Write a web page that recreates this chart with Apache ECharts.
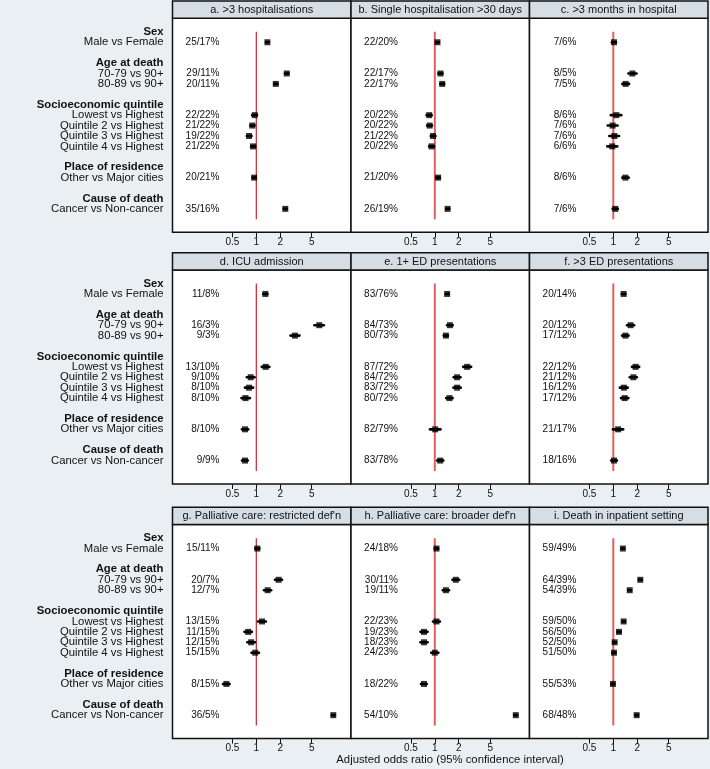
<!DOCTYPE html>
<html><head><meta charset="utf-8">
<script src="https://cdn.jsdelivr.net/npm/echarts@6/dist/echarts.min.js"></script>
<style>html,body{margin:0;padding:0;background:#e9eff2;}#c{width:710px;height:769px;}</style>
</head><body><div id="c"></div>
<script>
// ---- data ----
const rowLabels = ['Sex','Male vs Female','','Age at death','70-79 vs 90+','80-89 vs 90+','',
  'Socioeconomic quintile','Lowest vs Highest','Quintile 2 vs Highest','Quintile 3 vs Highest','Quintile 4 vs Highest','',
  'Place of residence','Other vs Major cities','','Cause of death','Cancer vs Non-cancer'];
const headerRows = [0, 3, 7, 13, 16];
const itemRows = [1, 4, 5, 8, 9, 10, 11, 14, 17];
const tickValues = [0.5, 1, 2, 5];
const refValue = 1;
const axisTitle = 'Adjusted odds ratio (95% confidence interval)';

const panelTitles = ['a. >3 hospitalisations','b. Single hospitalisation >30 days','c. >3 months in hospital',
  'd. ICU admission','e. 1+ ED presentations','f. >3 ED presentations',
  "g. Palliative care: restricted def'n","h. Palliative care: broader def'n",'i. Death in inpatient setting'];

const aOR = [1.38, 2.42, 1.76, 0.955, 0.89, 0.81, 0.91, 0.94, 2.32];
const aLo = [1.33, 2.30, 1.68, 0.89, 0.84, 0.76, 0.86, 0.90, 2.22];
const aHi = [1.43, 2.55, 1.85, 1.02, 0.95, 0.87, 0.97, 0.98, 2.42];
const aPct = ['25/17%','29/11%','20/11%','22/22%','21/22%','19/22%','21/22%','20/21%','35/16%'];

const bOR = [1.08, 1.18, 1.24, 0.85, 0.86, 0.95, 0.91, 1.10, 1.45];
const bLo = [1.04, 1.11, 1.17, 0.79, 0.80, 0.89, 0.85, 1.04, 1.39];
const bHi = [1.12, 1.25, 1.31, 0.91, 0.92, 1.02, 0.98, 1.16, 1.52];
const bPct = ['22/20%','22/17%','22/17%','20/22%','20/22%','21/22%','20/22%','21/20%','26/19%'];

const cOR = [1.02, 1.74, 1.43, 1.09, 0.98, 1.03, 0.97, 1.42, 1.06];
const cLo = [0.96, 1.55, 1.30, 0.93, 0.85, 0.89, 0.84, 1.30, 0.98];
const cHi = [1.08, 1.96, 1.58, 1.26, 1.13, 1.18, 1.12, 1.56, 1.14];
const cPct = ['7/6%','8/5%','7/5%','8/6%','7/6%','7/6%','6/6%','8/6%','7/6%'];

const dOR = [1.30, 6.23, 3.07, 1.31, 0.85, 0.81, 0.73, 0.72, 0.72];
const dLo = [1.22, 5.40, 2.70, 1.17, 0.76, 0.72, 0.65, 0.66, 0.66];
const dHi = [1.38, 7.10, 3.50, 1.46, 0.95, 0.91, 0.83, 0.79, 0.78];
const dPct = ['11/8%','16/3%','9/3%','13/10%','9/10%','8/10%','8/10%','8/10%','9/9%'];

const eOR = [1.43, 1.55, 1.38, 2.56, 1.91, 1.91, 1.53, 1.01, 1.17];
const eLo = [1.37, 1.43, 1.30, 2.28, 1.73, 1.72, 1.39, 0.87, 1.07];
const eHi = [1.49, 1.68, 1.46, 2.87, 2.11, 2.12, 1.68, 1.18, 1.28];
const ePct = ['83/76%','84/73%','80/73%','87/72%','84/72%','83/72%','80/72%','82/79%','83/78%'];

const fOR = [1.35, 1.65, 1.42, 1.91, 1.79, 1.36, 1.39, 1.15, 1.02];
const fLo = [1.28, 1.49, 1.29, 1.72, 1.61, 1.21, 1.25, 0.99, 0.94];
const fHi = [1.42, 1.83, 1.56, 2.12, 1.98, 1.52, 1.55, 1.33, 1.11];
const fPct = ['20/14%','20/12%','17/12%','22/12%','21/12%','16/12%','17/12%','21/17%','18/16%'];

const gOR = [1.03, 1.91, 1.39, 1.18, 0.79, 0.86, 0.97, 0.42, 9.35];
const gLo = [0.97, 1.72, 1.25, 1.05, 0.71, 0.77, 0.87, 0.38, 9.00];
const gHi = [1.09, 2.11, 1.54, 1.32, 0.88, 0.96, 1.08, 0.46, 9.70];
const gPct = ['15/11%','20/7%','12/7%','13/15%','11/15%','12/15%','15/15%','8/15%','36/5%'];

const hOR = [1.05, 1.84, 1.38, 1.05, 0.73, 0.73, 1.00, 0.73, 10.5];
const hLo = [1.00, 1.67, 1.26, 0.95, 0.66, 0.66, 0.90, 0.67, 10.1];
const hHi = [1.10, 2.03, 1.51, 1.16, 0.81, 0.81, 1.11, 0.79, 10.9];
const hPct = ['24/18%','30/11%','19/11%','22/23%','19/23%','18/23%','24/23%','18/22%','54/10%'];

const iOR = [1.32, 2.19, 1.61, 1.35, 1.18, 1.04, 1.02, 0.99, 1.97];
const iLo = [1.28, 2.10, 1.55, 1.30, 1.13, 1.00, 0.98, 0.95, 1.90];
const iHi = [1.36, 2.28, 1.67, 1.40, 1.23, 1.08, 1.06, 1.03, 2.04];
const iPct = ['59/49%','64/39%','54/39%','59/50%','56/50%','52/50%','51/50%','55/53%','68/48%'];

// ---- layout ----
const FONT = '"Liberation Sans", Arial, Helvetica, sans-serif';
const colLeft = [172.5, 351, 529.5];
const colWidth = 178.5;
const stripTop = [1, 252.7, 507.3];
const stripH = 17.3;
const plotH = 214;
const xMin = -1.0568, xMax = 1.194;
const yMin = -1.3, yMax = 19.25;

const panels = [
  [aOR,aLo,aHi,aPct],[bOR,bLo,bHi,bPct],[cOR,cLo,cHi,cPct],
  [dOR,dLo,dHi,dPct],[eOR,eLo,eHi,ePct],[fOR,fLo,fHi,fPct],
  [gOR,gLo,gHi,gPct],[hOR,hLo,hHi,hPct],[iOR,iLo,iHi,iPct]
];
const lg = v => Math.log10(v);

const grids = [], xAxes = [], yAxes = [], series = [], graphics = [];
panels.forEach((p, k) => {
  const r = Math.floor(k / 3), c = k % 3;
  const [or, lo, hi, pct] = p;
  grids.push({left: colLeft[c], top: stripTop[r] + stripH, width: colWidth, height: plotH,
    show: true, backgroundColor: '#ffffff', borderColor: '#111', borderWidth: 1.5});
  xAxes.push({type: 'value', gridIndex: k, min: xMin, max: xMax, position: 'bottom',
    axisLine: {show: false, onZero: false}, splitLine: {show: false},
    axisTick: {show: true, inside: false, length: 5, customValues: tickValues.map(lg), lineStyle: {color: '#111', width: 1}},
    axisLabel: {customValues: tickValues.map(lg), margin: 5, fontSize: 10, color: '#111', fontFamily: FONT,
      formatter: v => String(Math.round(Math.pow(10, v) * 10) / 10)}});
  const statAxis = yAxes.length;
  yAxes.push({type: 'value', gridIndex: k, min: yMin, max: yMax, inverse: true, position: 'left',
    axisLine: {show: false, onZero: false}, axisTick: {show: false}, splitLine: {show: false},
    axisLabel: {inside: true, margin: 47, align: 'right', customValues: itemRows, fontSize: 10, color: '#111', fontFamily: FONT,
      formatter: v => pct[itemRows.indexOf(Math.round(v))] || ''}});
  if (c === 0) {
    yAxes.push({type: 'value', gridIndex: k, min: yMin, max: yMax, inverse: true, position: 'left',
      axisLine: {show: false, onZero: false}, axisTick: {show: false}, splitLine: {show: false},
      axisLabel: {margin: 9, customValues: headerRows.concat(itemRows), fontSize: 11.3, color: '#111', fontFamily: FONT,
        formatter: v => { const i = Math.round(v); return headerRows.includes(i) ? '{h|' + rowLabels[i] + '}' : '{n|' + rowLabels[i] + '}'; },
        rich: {h: {fontWeight: 'bold', fontSize: 11.3, fontFamily: FONT, color: '#111'},
               n: {fontSize: 11.3, fontFamily: FONT, color: '#111'}}}});
  }
  // reference line at OR = 1
  series.push({type: 'line', xAxisIndex: k, yAxisIndex: statAxis, silent: true, symbol: 'none', z: 1,
    lineStyle: {color: c === 0 ? '#c8242c' : '#e0605f', width: c === 0 ? 1.2 : 2},
    data: [[lg(refValue), 0], [lg(refValue), 18]]});
  // confidence intervals
  series.push({type: 'custom', xAxisIndex: k, yAxisIndex: statAxis, silent: true, z: 3,
    data: itemRows.map((row, j) => [lg(lo[j]), lg(hi[j]), row]),
    encode: {x: [0, 1], y: 2},
    renderItem: (params, api) => {
      const p1 = api.coord([api.value(0), api.value(2)]);
      const p2 = api.coord([api.value(1), api.value(2)]);
      return {type: 'line', shape: {x1: p1[0], y1: p1[1], x2: p2[0], y2: p2[1]},
        style: {stroke: '#000', lineWidth: 2.6, lineCap: 'round'}};
    }});
  // point estimates
  series.push({type: 'scatter', xAxisIndex: k, yAxisIndex: statAxis, symbol: 'rect', symbolSize: 6, z: 4,
    itemStyle: {color: '#000'}, data: itemRows.map((row, j) => [lg(or[j]), row])});
  // strip
  graphics.push({type: 'rect', shape: {x: colLeft[c], y: stripTop[r], width: colWidth, height: stripH},
    style: {fill: '#d6dee5', stroke: '#111', lineWidth: 1.5}, z: 10});
  graphics.push({type: 'text', x: colLeft[c] + colWidth / 2, y: stripTop[r] + stripH / 2 + 0.5, z: 11,
    style: {text: panelTitles[k], font: '11px ' + FONT, fill: '#111', textAlign: 'center', textVerticalAlign: 'middle'}});
});
graphics.push({type: 'text', x: 450, y: 760, z: 11,
  style: {text: axisTitle, font: '11.3px ' + FONT, fill: '#111', textAlign: 'center', textVerticalAlign: 'middle'}});

const chart = echarts.init(document.getElementById('c'), null, {renderer: 'canvas'});
chart.setOption({
  backgroundColor: '#e9eff2',
  animation: false,
  grid: grids, xAxis: xAxes, yAxis: yAxes, series: series, graphic: graphics
});
</script></body></html>
